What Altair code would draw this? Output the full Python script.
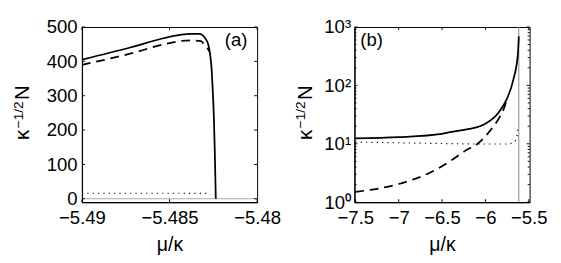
import altair as alt
import pandas as pd

# ---------------- data: panel (a) ----------------
a_solid_mu = [-5.49, -5.4872, -5.4853, -5.4844, -5.4838, -5.4833, -5.48298, -5.48279,
              -5.4827, -5.4826, -5.48255, -5.48247, -5.48242, -5.48236]
a_solid_N = [405, 441, 468, 477, 480, 480, 468, 449, 426, 378, 331, 237, 142, 0]
a_dash_mu = [-5.49, -5.4872, -5.4853, -5.4844, -5.4838, -5.4832, -5.48307, -5.48288, -5.48273]
a_dash_N = [390, 423, 450, 459, 461, 459, 452, 442, 428]
a_dot_mu = [-5.49, -5.486, -5.4828, -5.48266]
a_dot_N = [16, 16, 15.5, 13]
a_zero_mu = [-5.49, -5.48]
a_zero_N = [0, 0]
a_xticks = [-5.49, -5.485, -5.48]
a_yticks = [0, 100, 200, 300, 400, 500]

# ---------------- data: panel (b) ----------------
b_solid_mu = [-7.5, -7.0, -6.5, -6.41, -6.2, -6.0, -5.85, -5.757, -5.68, -5.626, -5.615]
b_solid_N = [12.4, 13.0, 14.8, 15.8, 17.8, 22, 34, 57, 122, 340, 690]
b_dash_mu = [-7.5, -7.0, -6.64, -6.41, -6.22, -6.09, -5.96, -5.85, -5.79, -5.746]
b_dash_N = [1.5, 2.05, 3.2, 5.0, 7.8, 10, 15.8, 26.4, 39, 61]
b_dot_mu = [-7.5, -7.0, -6.5, -6.0, -5.75, -5.68, -5.645, -5.625]
b_dot_N = [10.7, 10.4, 10.1, 9.9, 9.9, 10.5, 12, 18]
b_vline_mu = [-5.615, -5.615]
b_vline_N = [1, 1000]
b_xticks = [-7.5, -7, -6.5, -6, -5.5]
b_yticks = [1, 10, 100, 1000]
b_yminor = [2, 3, 4, 5, 6, 7, 8, 9, 20, 30, 40, 50, 60, 70, 80, 90,
            200, 300, 400, 500, 600, 700, 800, 900]

# y-axis title pieces: kappa, superscript, N
ytitle_parts = ["κ", "−1/2", "N"]
xtitle = "μ/κ"
panel_labels = ["(a)", "(b)"]

W, H = 180, 180
FONT = "Liberation Sans"


def df(x, y):
    return pd.DataFrame({"x": x, "y": y})


def tdf(t):
    return pd.DataFrame({"t": t})


def txt(s, size, x, y, angle=0, align="left", baseline="alphabetic"):
    kw = dict(font=FONT, fontSize=size, align=align, baseline=baseline, color="black")
    if angle:
        kw["angle"] = angle
    return alt.Chart(pd.DataFrame({"s": [s]})).mark_text(**kw).encode(
        text="s:N", x=alt.value(x), y=alt.value(y))


def panel(xscale, yscale, xaxis, yaxis, xticks, yticks, lines, label, label_x, label_align,
          title_x, yminor=None):
    X = alt.X("x:Q", scale=xscale, axis=xaxis)
    Y = alt.Y("y:Q", scale=yscale, axis=yaxis)
    layers = []
    for (xs, ys, color, width, dash) in lines:
        kw = dict(color=color, strokeWidth=width, clip=True, interpolate="monotone")
        if dash:
            kw["strokeDash"] = dash
        layers.append(alt.Chart(df(xs, ys)).mark_line(**kw).encode(x=X, y=Y))
    TX = alt.X("t:Q", scale=xscale, axis=xaxis)
    TY = alt.Y("t:Q", scale=yscale, axis=yaxis)
    tk = dict(color="black", strokeWidth=1)
    layers.append(alt.Chart(tdf(xticks)).mark_rule(**tk).encode(x=TX, y=alt.value(H), y2=alt.value(H - 3)))
    layers.append(alt.Chart(tdf(xticks)).mark_rule(**tk).encode(x=TX, y=alt.value(0), y2=alt.value(3)))
    layers.append(alt.Chart(tdf(yticks)).mark_rule(**tk).encode(y=TY, x=alt.value(0), x2=alt.value(3)))
    layers.append(alt.Chart(tdf(yticks)).mark_rule(**tk).encode(y=TY, x=alt.value(W - 3), x2=alt.value(W)))
    if yminor:
        layers.append(alt.Chart(tdf(yminor)).mark_rule(**tk).encode(y=TY, x=alt.value(0), x2=alt.value(2)))
        layers.append(alt.Chart(tdf(yminor)).mark_rule(**tk).encode(y=TY, x=alt.value(W - 2), x2=alt.value(W)))
    layers.append(txt(label, 19, label_x, 14, align=label_align, baseline="middle"))
    # composed y title (rotated): kappa, raised superscript, N
    layers.append(txt(ytitle_parts[0], 21, title_x, 116, angle=270))
    layers.append(txt(ytitle_parts[1], 14, title_x - 7, 104, angle=270))
    layers.append(txt(ytitle_parts[2], 21, title_x, 75, angle=270))
    return alt.layer(*layers).properties(width=W, height=H)


common_x = dict(title=xtitle, titleY=50, titleBaseline="alphabetic", titleFontSize=20,
                labelPadding=7, tickSize=0, grid=False)

xa_scale = alt.Scale(domain=[-5.49, -5.48], nice=False, zero=False)
ya_scale = alt.Scale(domain=[-10, 500], nice=False, zero=False)
xa_axis = alt.Axis(values=a_xticks, format=".3~f", **common_x)
ya_axis = alt.Axis(values=a_yticks, title="", labelPadding=5, tickSize=0, grid=False)

xb_scale = alt.Scale(domain=[-7.51, -5.49], nice=False, zero=False)
yb_scale = alt.Scale(type="log", domain=[1, 1000], nice=False)
xb_axis = alt.Axis(values=b_xticks, format="~g", **common_x)
yb_axis = alt.Axis(values=b_yticks, title="", labelPadding=4, tickSize=0, grid=False,
                   labelExpr="'10' + ['⁰','¹','²','³'][round(log(datum.value)/LN10)]")

pa = panel(xa_scale, ya_scale, xa_axis, ya_axis, a_xticks, a_yticks, [
    (a_zero_mu, a_zero_N, "#aaaaaa", 1, None),
    (a_dot_mu, a_dot_N, "black", 1.2, [1.2, 4.3]),
    (a_dash_mu, a_dash_N, "black", 1.8, [9, 6]),
    (a_solid_mu, a_solid_N, "black", 1.8, None),
], panel_labels[0], W - 10, "right", -54)

pb = panel(xb_scale, yb_scale, xb_axis, yb_axis, b_xticks, b_yticks, [
    (b_vline_mu, b_vline_N, "#888888", 1, None),
    (b_dot_mu, b_dot_N, "black", 1.2, [1.2, 4.3]),
    (b_dash_mu, b_dash_N, "black", 1.8, [9, 6]),
    (b_solid_mu, b_solid_N, "black", 1.8, None),
], panel_labels[1], 6, "left", -44, yminor=b_yminor)

chart = alt.hconcat(pa, pb, spacing=100, bounds="flush").resolve_scale(
    x="independent", y="independent"
).properties(
    padding={"left": 3, "top": 6, "right": 5, "bottom": 5}
).configure(font=FONT).configure_view(stroke="black", strokeWidth=1).configure_axis(
    labelFont=FONT, titleFont=FONT, labelFontSize=19, labelColor="black", titleColor="black",
    domainColor="black", domainWidth=1.2, titleFontWeight="normal", labelFlush=False
)

chart.save("out.html", embed_options={"renderer": "svg", "actions": False})
